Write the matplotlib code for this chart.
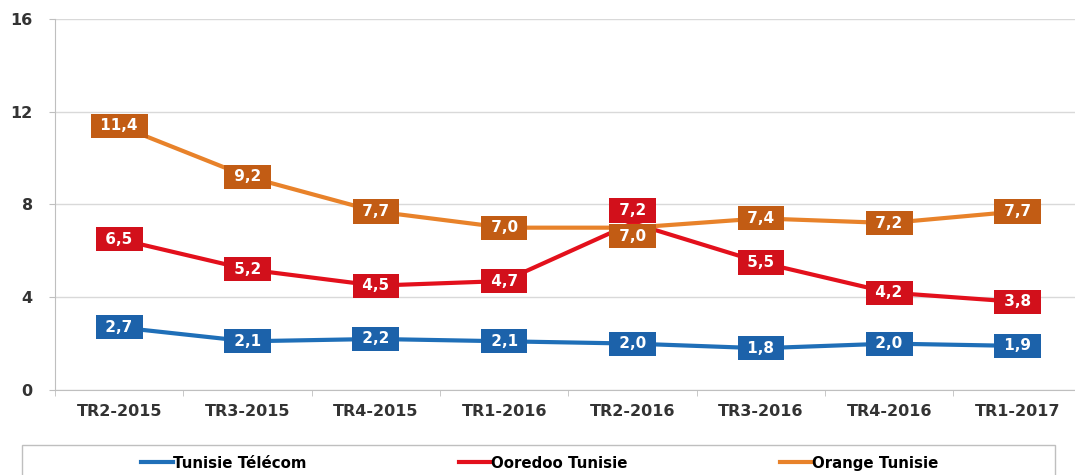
import numpy as np
import matplotlib.pyplot as plt
from matplotlib.patches import Rectangle

quarters = ['TR2-2015', 'TR3-2015', 'TR4-2015', 'TR1-2016',
            'TR2-2016', 'TR3-2016', 'TR4-2016', 'TR1-2017']
telecom = [2.7, 2.1, 2.2, 2.1, 2.0, 1.8, 2.0, 1.9]
ooredoo = [6.5, 5.2, 4.5, 4.7, 7.2, 5.5, 4.2, 3.8]
orange = [11.4, 9.2, 7.7, 7.0, 7.0, 7.4, 7.2, 7.7]
names = ['Tunisie Télécom', 'Ooredoo Tunisie', 'Orange Tunisie']

line_colors = ['#1f6fb8', '#e3101c', '#e8822a']
box_colors = ['#1c62aa', '#d2101b', '#c25c14']

fig = plt.figure(figsize=(10.75, 4.75), dpi=100)
ax = fig.add_axes([0.0512, 0.179, 0.955, 0.781])

x = np.arange(len(quarters))
series = [telecom, ooredoo, orange]
# label offsets in points, only where two labels collide
offsets = {(1, 4): 9, (2, 4): -6}

for i, (vals, lc, bc) in enumerate(zip(series, line_colors, box_colors)):
    ax.plot(x, vals, color=lc, lw=3, label=names[i], zorder=3)
    for j, v in enumerate(vals):
        dy = offsets.get((i, j), 0)
        txt = ' ' + f'{v:.1f}'.replace('.', ',') + ' '
        ax.annotate(txt, (x[j], v),
                    xytext=(0, dy), textcoords='offset points',
                    ha='center', va='center', color='white',
                    fontsize=11, fontweight='bold', zorder=5,
                    bbox=dict(boxstyle='square,pad=0.3', fc=bc, ec='none'))

ax.set_xlim(-0.5, len(quarters) - 0.5)
ax.set_ylim(0, 16)
ax.set_yticks([0, 4, 8, 12, 16])
ax.set_xticks(x)
ax.set_xticklabels(quarters)
ax.set_xticks(np.arange(-0.5, len(quarters), 1), minor=True)
ax.tick_params(axis='x', which='major', length=0, pad=10)
ax.tick_params(axis='x', which='minor', length=4, color='#bfbfbf')
ax.tick_params(axis='y', length=4, color='#bfbfbf', pad=12)
for lab in ax.get_xticklabels() + ax.get_yticklabels():
    lab.set_fontweight('bold')
    lab.set_fontsize(11.5)
    lab.set_color('#333333')
ax.grid(axis='y', color='#d9d9d9', lw=1)
ax.set_axisbelow(True)
for s in ['top', 'right']:
    ax.spines[s].set_visible(False)
for s in ['left', 'bottom']:
    ax.spines[s].set_color('#bfbfbf')

fig.patches.append(Rectangle((22 / 1075, -0.05), 1033 / 1075, 0.113,
                             transform=fig.transFigure, fill=False,
                             ec='#bfbfbf', lw=1))
fig.legend(loc='center', bbox_to_anchor=(0.502, 0.025), ncol=3, frameon=False,
           handlelength=2.1, handletextpad=0.0, columnspacing=10.2,
           prop=dict(weight='bold', size=10.8))

fig.savefig('out.png', dpi=100)
